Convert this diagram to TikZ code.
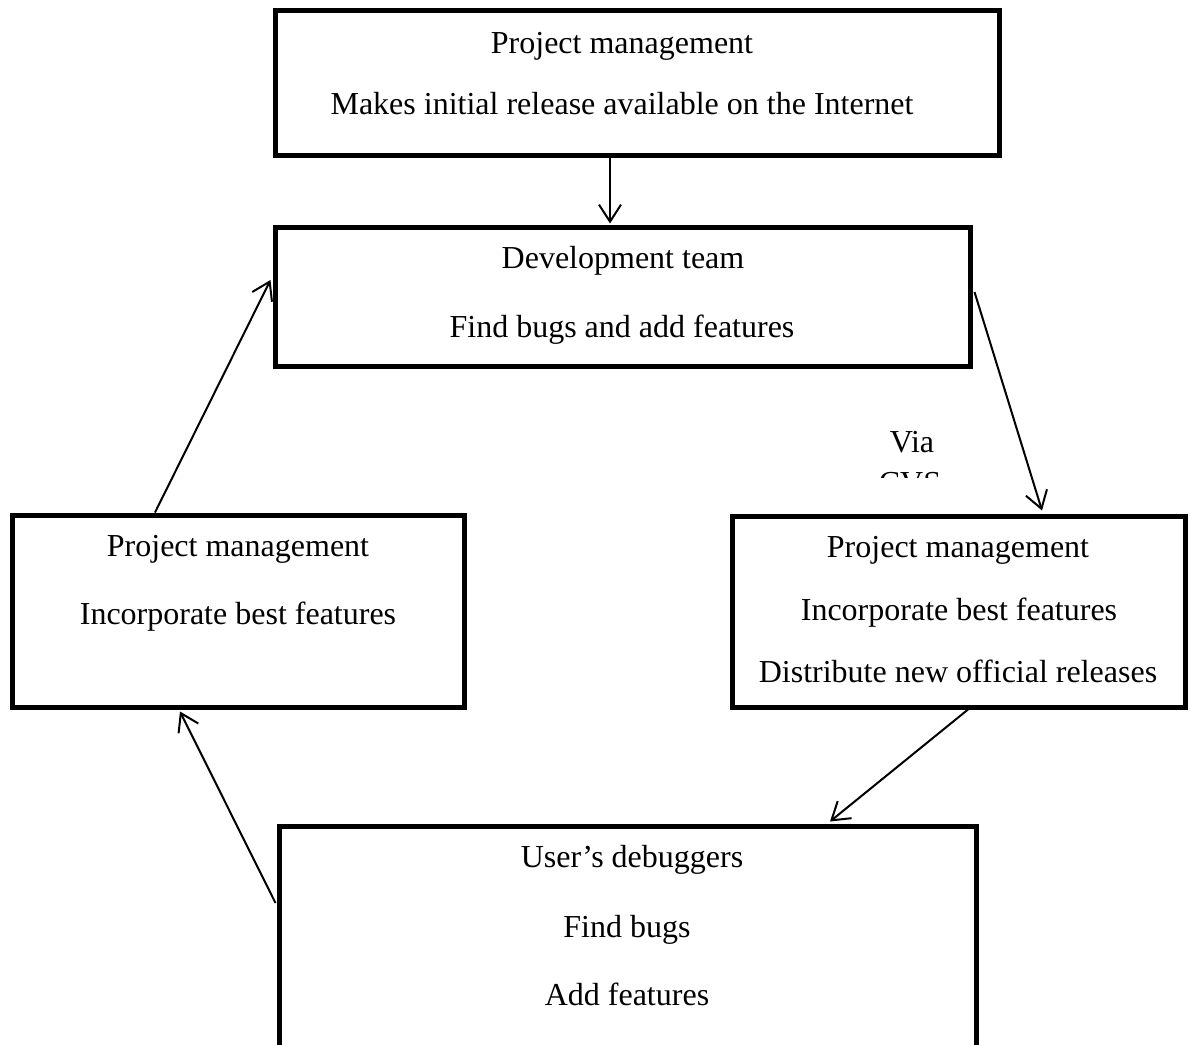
\documentclass[tikz,border=0pt]{standalone}
\usepackage{fontspec}
\setmainfont{Liberation Serif}
\usetikzlibrary{arrows.meta}
\begin{document}
\begin{tikzpicture}[x=1pt,y=1pt,
  box/.style={draw,line width=5pt,inner sep=0pt,minimum width=#1},
  lbl/.style={anchor=base,inner sep=0pt,font=\fontsize{32}{38}\selectfont},
  arr/.style={line width=2pt,-{Straight Barb[length=17pt,width=22pt,line width=2pt]}}]
  \clip (0,0) rectangle (1191,-1044);
  \fill[white] (0,0) rectangle (1191,-1044);

  % boxes
  \node[box=724pt,minimum height=145pt] (top) at (637,-82.5) {};
  \node[box=695pt,minimum height=139pt] (dev) at (622.5,-296.5) {};
  \node[box=452pt,minimum height=192pt] (lb) at (238,-611) {};
  \node[box=453pt,minimum height=191pt] (rb) at (958.5,-611.5) {};
  \node[box=697pt,minimum height=274pt] (bb) at (627.5,-963) {};

  % box texts
  \node[lbl] (t1) at (622,-53) {Project management};
  \node[lbl] (t2) at (622,-114) {Makes initial release available on the Internet};
  \node[lbl] (d1) at (623,-268) {Development team};
  \node[lbl] (d2) at (622,-337) {Find bugs and add features};
  \node[lbl] (l1) at (238,-556) {Project management};
  \node[lbl] (l2) at (238,-624) {Incorporate best features};
  \node[lbl] (r1) at (958,-557) {Project management};
  \node[lbl] (r2) at (959,-620) {Incorporate best features};
  \node[lbl] (r3) at (958,-682) {Distribute new official releases};
  \node[lbl] (b1) at (632,-867) {User’s debuggers};
  \node[lbl] (b2) at (627,-937) {Find bugs};
  \node[lbl] (b3) at (627,-1005) {Add features};

  % connector label, cut off by its frame
  \begin{scope}
    \clip (850,-412) rectangle (975,-477);
    \node[lbl] (v1) at (912,-452) {Via};
    \node[lbl] (v2) at (910,-493) {CVS};
  \end{scope}

  % connectors
  \draw[arr] ([xshift=-27pt]top.south) -- ([xshift=-12.5pt,yshift=1pt]dev.north);
  \draw[arr] ([xshift=2pt,yshift=4.5pt]dev.east) -- ([xshift=83.5pt,yshift=3pt]rb.north);
  \draw[arr] ([xshift=9.5pt]rb.south) -- ([xshift=202.5pt,yshift=2pt]bb.north);
  \draw[arr] ([xshift=-1pt,yshift=60pt]bb.west) -- ([xshift=-58pt,yshift=-2pt]lb.south);
  \draw[arr] ([xshift=-83pt]lb.north) -- ([xshift=-2pt,yshift=16.5pt]dev.west);
\end{tikzpicture}
\end{document}
